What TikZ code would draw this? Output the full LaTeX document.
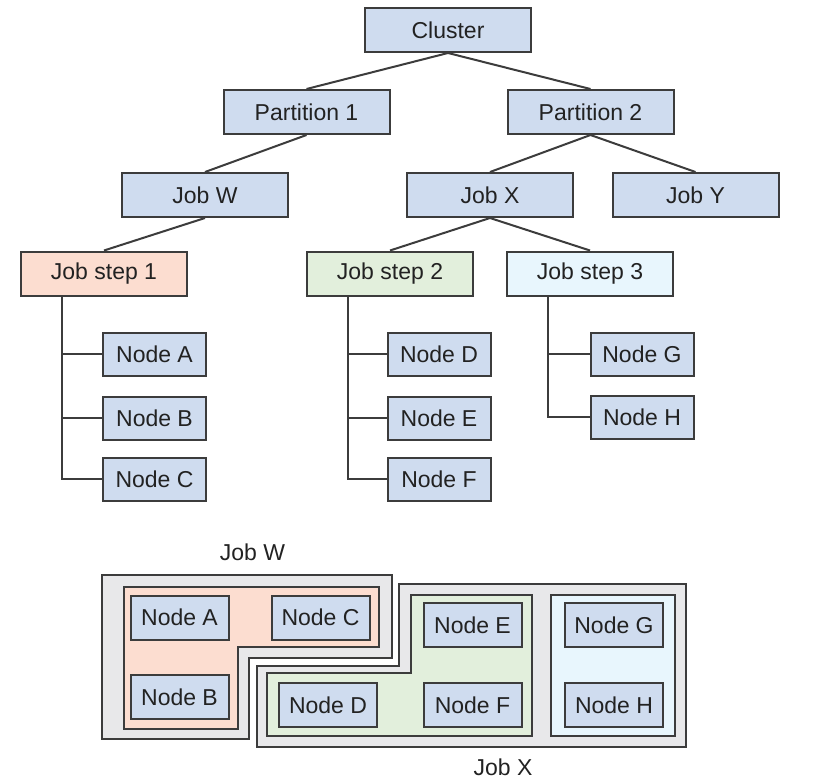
\documentclass[tikz,border=0pt]{standalone}
\usepackage{fontspec}
\setmainfont{Liberation Sans}
\definecolor{boxblue}{RGB}{207,220,239}
\definecolor{pinkfill}{RGB}{252,221,208}
\definecolor{greenfill}{RGB}{226,239,220}
\definecolor{skyfill}{RGB}{232,246,253}
\definecolor{grayfill}{RGB}{232,232,234}
\definecolor{linec}{RGB}{60,60,60}
\definecolor{textc}{RGB}{34,34,34}
\begin{document}
\begin{tikzpicture}[x={(1pt,0)}, y={(0,-1pt)},
  base/.style={draw=linec, line width=2pt, inner sep=0pt, text=textc,
    font=\fontsize{23}{27}\selectfont},
  tbox/.style={base, fill=boxblue, minimum width=166pt, minimum height=44pt},
  hostbox/.style={base, fill=boxblue, minimum width=103pt, minimum height=43pt},
  packbox/.style={base, fill=boxblue, minimum width=98pt, minimum height=44pt},
  link/.style={draw=linec, line width=2pt},
  region/.style={draw=linec, line width=2pt}]
  \useasboundingbox (0,0) rectangle (840,780);
  %tree
  \node[tbox] (cluster) at (448,30) {Cluster};
  \node[tbox] (part1) at (306.5,112) {Partition 1};
  \node[tbox] (part2) at (590.5,112) {Partition 2};
  \node[tbox] (jobW) at (205,195) {Job W};
  \node[tbox] (jobX) at (490,195) {Job X};
  \node[tbox] (jobY) at (695.5,195) {Job Y};
  \node[tbox, fill=pinkfill] (step1) at (104,273.5) {Job step 1};
  \node[tbox, fill=greenfill] (step2) at (390,273.5) {Job step 2};
  \node[tbox, fill=skyfill] (step3) at (590,273.5) {Job step 3};
  \foreach \a/\b in {cluster/part1, cluster/part2, part1/jobW, part2/jobX,
      part2/jobY, jobW/step1, jobX/step2, jobX/step3}
    \draw[link] (\a.south) -- (\b.north);
  %hosts
  \node[hostbox] (nA) at (154.5,354) {Node A};
  \node[hostbox] (nB) at (154.5,418) {Node B};
  \node[hostbox] (nC) at (154.5,479) {Node C};
  \node[hostbox] (nD) at (439,354) {Node D};
  \node[hostbox] (nE) at (439,418) {Node E};
  \node[hostbox] (nF) at (439,479) {Node F};
  \node[hostbox] (nG) at (642,354) {Node G};
  \node[hostbox] (nH) at (642,417) {Node H};
  \foreach \s/\n in {step1/nA, step1/nB, step1/nC, step2/nD, step2/nE,
      step2/nF, step3/nG, step3/nH}
    \draw[link] ([xshift=42pt]\s.south west) |- (\n.west);
  %allocation
  \filldraw[region, fill=grayfill]
    (102,575) -- (392,575) -- (392,658) -- (249,658) -- (249,739) -- (102,739) -- cycle;
  \filldraw[region, fill=pinkfill]
    (124,587) -- (379,587) -- (379,647) -- (238,647) -- (238,729) -- (124,729) -- cycle;
  \filldraw[region, fill=grayfill]
    (399,584) -- (686,584) -- (686,747) -- (257,747) -- (257,666) -- (399,666) -- cycle;
  \filldraw[region, fill=greenfill]
    (411,595) -- (532,595) -- (532,736) -- (267,736) -- (267,673) -- (411,673) -- cycle;
  \filldraw[region, fill=skyfill] (551,595) rectangle (675,736);
  \node[packbox] (bA) at (179.5,617.5) {Node A};
  \node[packbox] (bC) at (320.5,617.5) {Node C};
  \node[packbox] (bB) at (179.5,697) {Node B};
  \node[packbox] (bD) at (328,705) {Node D};
  \node[packbox] (bE) at (472.5,625) {Node E};
  \node[packbox] (bF) at (472.5,705) {Node F};
  \node[packbox] (bG) at (614,625) {Node G};
  \node[packbox] (bH) at (614,705) {Node H};
  %labels
  \node[text=textc, font=\fontsize{23}{27}\selectfont] (labW) at (252.5,552) {Job W};
  \node[text=textc, font=\fontsize{23}{27}\selectfont] (labX) at (503,767) {Job X};
\end{tikzpicture}
\end{document}
